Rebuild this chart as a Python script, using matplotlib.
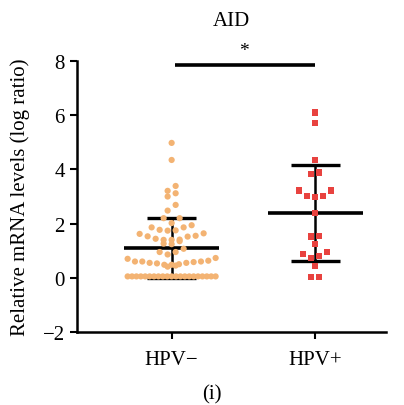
import matplotlib
matplotlib.use("Agg")
import matplotlib.pyplot as plt
import numpy as np
from matplotlib import rcParams

rcParams['font.family'] = 'serif'
rcParams['font.serif'] = ['Liberation Serif', 'DejaVu Serif']

# values (log ratio)
hpv_neg = [4.98, 4.35, 3.39, 3.21, 3.12, 3.00, 2.69, 2.48, 2.20, 2.20, 2.02, 1.94,
           1.86, 1.86, 1.77, 1.75, 1.74, 1.64, 1.62, 1.55, 1.53, 1.52, 1.44, 1.41,
           1.40, 1.40, 1.35, 1.26, 1.24, 1.07, 0.95, 0.95, 0.86,
           0.73, 0.70, 0.63, 0.60, 0.60, 0.60, 0.58, 0.55, 0.55, 0.53, 0.50, 0.48,
           0.48, 0.45, 0.41] + [0.05] * 21
hpv_pos = [6.10, 5.71, 4.35, 3.89, 3.84, 3.22, 3.22, 3.03, 3.03, 2.98, 2.39,
           1.55, 1.52, 1.25, 0.96, 0.89, 0.79, 0.74, 0.42, 0.03, 0.03]
groups = ['HPV−', 'HPV+']

fig = plt.figure(figsize=(4.04, 4.06), dpi=100)
ax = fig.add_axes([0.19, 0.18, 0.765, 0.667])
ax.set_xlim(-0.66, 1.49)
ax.set_ylim(-2, 8)
fig.canvas.draw()


def scatter_rows(values, center, row_h=7.0, step=8.0, half_w=44.0):
    # Prism-like layout: close values share a row, spread out from the centre
    vals = np.asarray(values, dtype=float)
    pts = ax.transData.transform(np.column_stack([np.full(len(vals), center), vals]))
    ys = pts[:, 1]
    cx = pts[0, 0]
    xs = np.zeros(len(vals))
    order = list(np.argsort(-ys, kind='stable'))
    while order:
        top = ys[order[0]]
        row = [i for i in order if top - ys[i] < row_h]
        order = [i for i in order if i not in row]
        n = len(row)
        s = step if n < 2 else min(step, 2 * half_w / (n - 1))
        offs = (np.arange(n) - (n - 1) / 2) * s
        offs = offs[np.argsort(np.abs(offs), kind='stable')]
        # lowest value in the middle, higher ones further out
        row = sorted(row, key=lambda i: ys[i])
        for i, o in zip(row, offs):
            xs[i] = o
    inv = ax.transData.inverted()
    return inv.transform(np.column_stack([cx + xs, ys]))[:, 0]


x_neg = scatter_rows(hpv_neg, 0)
x_pos = scatter_rows(hpv_pos, 1)

ax.scatter(x_neg, hpv_neg, s=20, marker='o', color='#F3B373', edgecolors='none', zorder=3)
ax.scatter(x_pos, hpv_pos, s=20, marker='s', color='#E8423F', edgecolors='none', zorder=3)

# mean +/- SD
for pos, vals in zip([0, 1], [hpv_neg, hpv_pos]):
    m = np.mean(vals)
    sd = np.std(vals, ddof=1)
    ax.plot([pos - 0.33, pos + 0.33], [m, m], color='black', lw=2.6, zorder=2, solid_capstyle='butt')
    ax.plot([pos, pos], [m - sd, m + sd], color='black', lw=1.8, zorder=2)
    for e in (m - sd, m + sd):
        ax.plot([pos - 0.17, pos + 0.17], [e, e], color='black', lw=2.4, zorder=2, solid_capstyle='butt')

# significance bar
ax.plot([0.02, 1.0], [7.85, 7.85], color='black', lw=2.6, clip_on=False, solid_capstyle='butt')
ax.text(0.5, 8.4, '*', ha='center', va='center', fontsize=14, clip_on=False)

ax.set_xticks([0, 1])
ax.set_xticklabels(groups)
ax.set_yticks([-2, 0, 2, 4, 6, 8])
ax.set_yticklabels(['−2', '0', '2', '4', '6', '8'])
ax.tick_params(labelsize=15, width=1.5, length=5, color='black')
ax.tick_params(axis='x', pad=8)
for side in ['top', 'right']:
    ax.spines[side].set_visible(False)
for side in ['left', 'bottom']:
    ax.spines[side].set_linewidth(1.8)
ax.set_ylabel('Relative mRNA levels (log ratio)', fontsize=15, labelpad=9)
ax.set_title('AID', fontsize=15, pad=26)

fig.text(0.525, 0.027, '(i)', ha='center', va='center', fontsize=15)

fig.savefig('out.png', dpi=100)
